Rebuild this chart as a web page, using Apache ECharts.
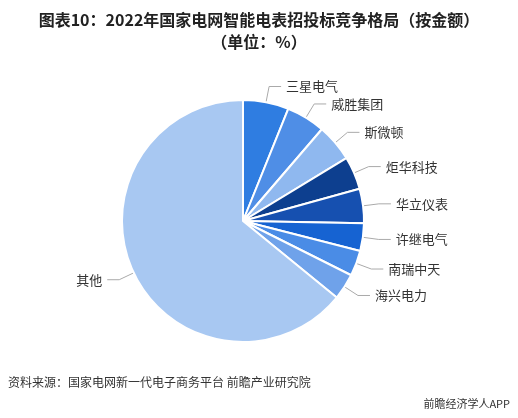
<!DOCTYPE html>
<html><head><meta charset="utf-8">
<script src="https://cdn.jsdelivr.net/npm/echarts@6/dist/echarts.min.js"></script>
<style>html,body{margin:0;padding:0;background:#fff}#c{width:518px;height:418px}</style>
</head><body><div id="c"></div>
<script>
// 厂商与份额（%）
var names = ['三星电气', '威胜集团', '斯微顿', '炬华科技', '华立仪表', '许继电气', '南瑞中天', '海兴电力', '其他'];
var shares = [6.1, 5.2, 5.0, 4.4, 4.6, 3.7, 3.4, 3.5, 64.1];
var colors = ['#2f7de1', '#4f8ee6', '#8fb8ef', '#0d3f8f', '#1650b0', '#1663d2', '#4a8ce6', '#6fa2ea', '#a8c8f2'];

var chart = echarts.init(document.getElementById('c'));
var font = '"Noto Sans CJK SC", sans-serif';
chart.setOption({
    title: {
        text: '图表10：2022年国家电网智能电表招投标竞争格局（按金额）\n（单位：%）',
        left: 'center', top: 4,
        textStyle: { fontSize: 16, fontWeight: 'bold', color: '#222', fontFamily: font, lineHeight: 22 }
    },
    graphic: [
        { type: 'text', left: 8, top: 376, style: { text: '资料来源：国家电网新一代电子商务平台 前瞻产业研究院', fontSize: 12, fill: '#333', fontFamily: font } },
        { type: 'text', right: 8, top: 398, style: { text: '前瞻经济学人APP', fontSize: 11, fill: '#333', fontFamily: font } }
    ],
    series: [{
        type: 'pie',
        center: [243, 221],
        radius: [0, 121],
        startAngle: 90,
        clockwise: true,
        itemStyle: { borderColor: '#fff', borderWidth: 2 },
        label: { color: '#333', fontSize: 13, fontFamily: font },
        labelLine: { length: 16, length2: 12, lineStyle: { color: '#aaa' } },
        data: names.map(function (n, i) {
            return { name: n, value: shares[i], itemStyle: { color: colors[i] } };
        })
    }]
});
</script></body></html>
